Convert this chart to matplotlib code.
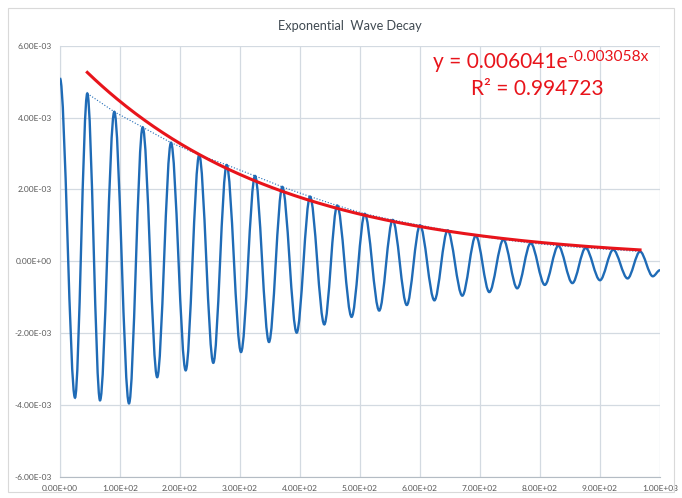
import numpy as np
import matplotlib.pyplot as plt
from matplotlib.path import Path
from matplotlib.patches import PathPatch, Rectangle

plt.rcParams['font.family'] = ['Lato', 'DejaVu Sans']

# extrema of the wave (x, y in 1e-3), in order
wave_x = [0, 25, 45.5, 66.7, 90.5, 115, 137.8, 162, 185, 209.5, 232, 255.5,
          277.8, 301.7, 325, 348.3, 370.5, 394.5, 416.7, 440.5, 462, 486,
          508, 532, 554.5, 578, 600, 624, 646, 670.5, 693, 715.5, 739, 762,
          784.5, 808, 830.5, 854, 876, 900, 922, 946, 966.7, 988, 1000]
wave_y = [5.09, -3.80, 4.67, -3.875, 4.16, -3.96, 3.73, -3.23, 3.30, -3.04,
          2.96, -2.83, 2.68, -2.53, 2.375, -2.25, 2.07, -1.99, 1.80, -1.76,
          1.55, -1.55, 1.32, -1.375, 1.15, -1.22, 1.00, -1.09, 0.86, -0.96,
          0.71, -0.86, 0.60, -0.755, 0.505, -0.66, 0.43, -0.61, 0.37, -0.53,
          0.32, -0.48, 0.27, -0.42, -0.25]

# peak series (dotted) used for the exponential trendline
peak_x = wave_x[2:43:2]
peak_y = wave_y[2:43:2]

# trendline coefficients as shown on the chart
trend_a = 0.006041
trend_b = -0.003058
r2 = 0.994723

x_ticks = np.arange(0, 1001, 100)
y_ticks = np.arange(-6e-3, 6.01e-3, 2e-3)

blue = '#1f6bb6'
red = '#e8141b'
grid_c = '#d3dae1'

fig = plt.figure(figsize=(6.82, 4.98), dpi=100)
fig.patches.append(Rectangle((8 / 682, 6 / 498), 666 / 682, 484 / 498,
                             transform=fig.transFigure, fill=False,
                             edgecolor='#d9d9d9', lw=0.8))
ax = fig.add_axes([60 / 682, 21.3 / 498, 600 / 682, 431 / 498])

# smooth wave through the extrema: cubic bezier with flat tangents
verts = [(wave_x[0], wave_y[0] * 1e-3)]
codes = [Path.MOVETO]
for i in range(1, len(wave_x)):
    x0, y0 = wave_x[i - 1], wave_y[i - 1] * 1e-3
    x1, y1 = wave_x[i], wave_y[i] * 1e-3
    d = x1 - x0
    verts += [(x0 + d / 3, y0), (x1 - d / 3, y1), (x1, y1)]
    codes += [Path.CURVE4] * 3
ax.add_patch(PathPatch(Path(verts, codes), fill=False, edgecolor=blue,
                       lw=1.7, zorder=3))

ax.plot(peak_x, np.array(peak_y) * 1e-3, ':', color=blue, lw=0.8, zorder=3)

tx = np.linspace(peak_x[0], peak_x[-1], 300)
ax.plot(tx, trend_a * np.exp(trend_b * tx), color=red, lw=2.2, zorder=4)

ax.set_xlim(0, 1000)
ax.set_ylim(-6e-3, 6e-3)
ax.set_xticks(x_ticks)
ax.set_yticks(y_ticks)
ax.set_xticklabels([f'{v:.2E}' for v in x_ticks])
ax.set_yticklabels([f'{v:.2E}' for v in y_ticks])
ax.tick_params(length=0, labelsize=6, colors='#595959', pad=6)
ax.grid(True, color=grid_c, lw=0.9)
ax.set_axisbelow(True)
for s in ['top', 'right']:
    ax.spines[s].set_visible(False)
ax.spines['left'].set_color(grid_c)
ax.spines['bottom'].set_color('#b4bcc4')

fig.text(350 / 682, 1 - 26 / 498, 'Exponential  Wave Decay', ha='center',
         va='center', fontsize=9.2, color='#404a52')

eq = ax.text(0.622, 0.948, 'y = 0.006041e', fontsize=15, color=red,
             va='baseline', ha='left', transform=ax.transAxes)
ax.annotate(f'{trend_b:.6f}x', xy=(1, 0.58), xycoords=eq, fontsize=11.2,
            color=red, va='baseline', ha='left')
ax.text(0.6845, 0.885, f'R² = {r2}', fontsize=15, color=red,
        va='baseline', ha='left', transform=ax.transAxes)

plt.savefig('out.png', dpi=100)
